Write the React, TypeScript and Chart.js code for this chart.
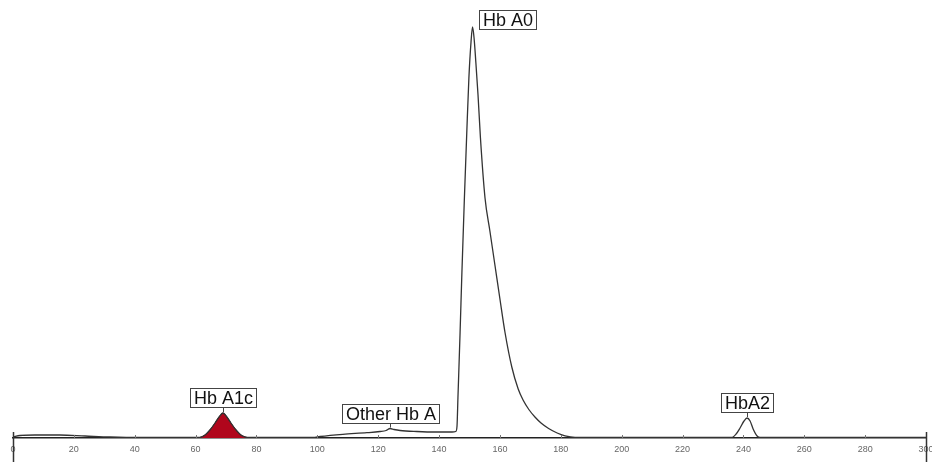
import { useEffect, useRef } from "react";
import { Chart, registerables } from "chart.js";

Chart.register(...registerables);

// Chromatogram trace: retention time (s) vs detector signal (arbitrary units)
const retentionTime = [
  0, 2.3, 7.2, 15.4, 23.7, 31.9, 41.7, 58.2,
  61.4, 63.1, 64.7, 66.4, 67.7, 69.0, 70.3, 71.6, 73.3, 74.9, 76.9,
  87.7, 98.6, 100.9, 108.4, 116.3, 120.6, 122.6, 123.9, 125.2, 127.2, 132.7, 138.7, 144.3,
  145.5, 145.9, 146.2, 146.9, 147.5, 148.3, 149.1, 149.8, 150.5, 151.0,
  151.5, 152.1, 152.8, 153.6, 155.1, 156.7, 158.4, 160.0, 161.7, 163.9, 166.0, 167.6,
  169.5, 171.5, 173.5, 176.0, 178.8, 181.4, 184.7, 188.0,
  225.7, 236.1, 237.6, 238.9, 240.2, 241.2, 242.2, 243.2, 244.5, 245.5, 300,
];
const signal = [
  1, 2.5, 3, 3, 2, 1, 0.5, 0.5,
  0.5, 3, 8, 15, 21, 25, 21, 15, 8, 3, 0.5,
  0.5, 0.5, 1.5, 3.7, 5.3, 6.5, 7.5, 9.5, 8.5, 7.5, 6.5, 6, 6,
  6.5, 12, 40, 105, 165, 238, 305, 360, 396, 411,
  400, 375, 343, 300, 240, 207, 172, 139, 105, 71, 49, 38,
  28.5, 21, 15, 9.5, 5, 2.2, 0.6, 0.5,
  0.5, 0.5, 4, 10, 17, 20, 17, 9, 2, 0.5, 0.5,
];

// Integrated (highlighted) window of the Hb A1c peak
const a1cWindow = [61.4, 76.9];

// Peak labels
const peakNames = ["Hb A1c", "Other Hb A", "Hb A0", "HbA2"];
const peakTimes = [69.0, 123.9, 151.0, 241.2];
const peakSignals = [25, 9.5, 411, 20];

// Axis ticks
const tickValues = [0, 20, 40, 60, 80, 100, 120, 140, 160, 180, 200, 220, 240, 260, 280, 300];

export default function App() {
  const ref = useRef<HTMLCanvasElement | null>(null);

  useEffect(() => {
    document.body.style.margin = "0";
    const canvas = ref.current;
    if (!canvas) return;

    const points = retentionTime.map((t, i) => ({ x: t, y: signal[i] }));
    const a1cPoints = points.filter((p) => p.x >= a1cWindow[0] && p.x <= a1cWindow[1]);

    const peakLabelPlugin = {
      id: "peakLabels",
      afterDatasetsDraw(chart: any) {
        const { ctx } = chart;
        const xs = chart.scales.x;
        const ys = chart.scales.y;
        ctx.save();
        ctx.font = "18px 'Liberation Sans', Arial, sans-serif";
        ctx.textBaseline = "middle";
        ctx.textAlign = "center";
        peakNames.forEach((name, i) => {
          const px = xs.getPixelForValue(peakTimes[i]);
          const py = ys.getPixelForValue(peakSignals[i]);
          const w = Math.round(ctx.measureText(name).width + 7);
          const h = 19;
          let bx: number;
          let by: number;
          if (name === "Hb A0") {
            bx = px + 6.5;
            by = py - 17;
          } else {
            bx = px - w / 2;
            by = py - 6 - h;
            ctx.strokeStyle = "#444";
            ctx.lineWidth = 1;
            ctx.beginPath();
            ctx.moveTo(Math.round(px) + 0.5, by + h);
            ctx.lineTo(Math.round(px) + 0.5, py - 1);
            ctx.stroke();
          }
          bx = Math.round(bx) + 0.5;
          by = Math.round(by) + 0.5;
          ctx.fillStyle = "#ffffff";
          ctx.fillRect(bx, by, w, h);
          ctx.strokeStyle = "#444";
          ctx.lineWidth = 1;
          ctx.strokeRect(bx, by, w, h);
          ctx.fillStyle = "#111";
          ctx.fillText(name, bx + w / 2, by + h / 2 + 1);
        });
        ctx.restore();
      },
    };

    const axisDecorPlugin = {
      id: "axisDecor",
      afterDraw(chart: any) {
        const { ctx, chartArea } = chart;
        const xs = chart.scales.x;
        const bottom = chartArea.bottom;
        ctx.save();
        ctx.strokeStyle = "#777";
        ctx.lineWidth = 1;
        tickValues.forEach((v) => {
          const px = Math.round(xs.getPixelForValue(v)) + 0.5;
          ctx.beginPath();
          ctx.moveTo(px, bottom - 3);
          ctx.lineTo(px, bottom);
          ctx.stroke();
        });
        ctx.strokeStyle = "#333";
        ctx.lineWidth = 1.5;
        [tickValues[0], tickValues[tickValues.length - 1]].forEach((v) => {
          const px = Math.round(xs.getPixelForValue(v)) + 0.5;
          ctx.beginPath();
          ctx.moveTo(px, bottom - 6);
          ctx.lineTo(px, bottom + 24);
          ctx.stroke();
        });
        ctx.restore();
      },
    };

    const chart = new Chart(canvas, {
      type: "scatter",
      data: {
        datasets: [
          {
            data: points,
            showLine: true,
            borderColor: "#333333",
            borderWidth: 1.3,
            pointRadius: 0,
            cubicInterpolationMode: "monotone",
            fill: false,
            order: 1,
          },
          {
            data: a1cPoints,
            showLine: true,
            borderColor: "#5a0a10",
            borderWidth: 1,
            backgroundColor: "#b0061c",
            pointRadius: 0,
            cubicInterpolationMode: "monotone",
            fill: "origin",
            order: 2,
          },
        ],
      },
      options: {
        animation: false,
        responsive: false,
        devicePixelRatio: 1,
        layout: { padding: { left: 13, right: 6, top: 0, bottom: 0 } },
        plugins: {
          legend: { display: false },
          tooltip: { enabled: false },
        },
        scales: {
          x: {
            type: "linear",
            min: 0,
            max: 300,
            afterBuildTicks(scale: any) {
              scale.ticks = tickValues.map((v) => ({ value: v }));
            },
            afterFit(scale: any) {
              scale.height = 25;
              scale.paddingLeft = 0;
              scale.paddingRight = 0;
            },
            ticks: {
              autoSkip: false,
              maxRotation: 0,
              padding: 6,
              color: "#666",
              font: { size: 9, family: "'Liberation Sans', Arial, sans-serif" },
            },
            grid: { display: true, drawOnChartArea: false, drawTicks: false },
            border: { display: true, color: "#222", width: 1.5 },
          },
          y: {
            type: "linear",
            display: false,
            min: 0,
            max: 438,
          },
        },
      },
      plugins: [peakLabelPlugin, axisDecorPlugin],
    });

    return () => chart.destroy();
  }, []);

  return (
    <canvas
      ref={ref}
      width={932}
      height={463}
      style={{ display: "block", width: "932px", height: "463px" }}
    />
  );
}
